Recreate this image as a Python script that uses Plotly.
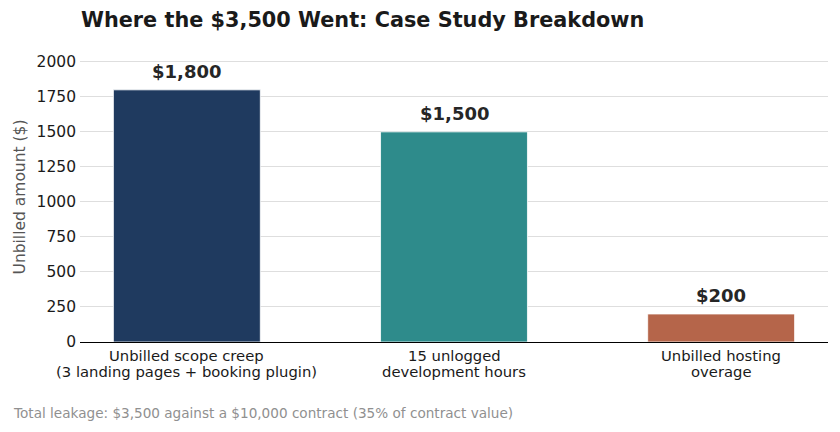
import plotly.graph_objects as go

label_line1 = ["Unbilled scope creep", "15 unlogged", "Unbilled hosting"]
label_line2 = ["(3 landing pages + booking plugin)", "development hours", "overage"]
values = [1800, 1500, 200]
value_labels = ["$1,800", "$1,500", "$200"]
colors = ["#1f3a5f", "#2e8b8b", "#b5654a"]
y_ticks = [0, 250, 500, 750, 1000, 1250, 1500, 1750, 2000]

xpos = list(range(len(values)))

fig = go.Figure()
fig.add_trace(go.Bar(
    x=xpos, y=values, width=0.55,
    marker=dict(color=colors, line=dict(color="white", width=0.8)),
    hoverinfo="skip",
))

for xi, v, lab in zip(xpos, values, value_labels):
    fig.add_annotation(x=xi, y=v, text="<b>" + lab + "</b>", showarrow=False,
                       yanchor="bottom", yshift=6,
                       font=dict(family="DejaVu Sans", size=18, color="#262626"))

# category labels (two lines each, tighter spacing like the reference)
for xi, l1, l2 in zip(xpos, label_line1, label_line2):
    fig.add_annotation(x=xi, xref="x", y=(342 - 355) / 290, yref="paper", text=l1,
                       showarrow=False, yanchor="middle",
                       font=dict(family="DejaVu Sans", size=14.8, color="#1a1a1a"))
    fig.add_annotation(x=xi, xref="x", y=(342 - 371.5) / 290, yref="paper", text=l2,
                       showarrow=False, yanchor="middle",
                       font=dict(family="DejaVu Sans", size=14.8, color="#1a1a1a"))

fig.add_annotation(x=(11 - 80) / 748, y=(342 - 413) / 290, xref="paper", yref="paper",
                   xanchor="left", yanchor="middle",
                   text="Total leakage: $3,500 against a $10,000 contract (35% of contract value)",
                   showarrow=False, font=dict(family="DejaVu Sans", size=13.6, color="#909090"))

fig.update_layout(
    width=840, height=432,
    margin=dict(l=80, r=12, t=52, b=90, autoexpand=False),
    paper_bgcolor="white", plot_bgcolor="white",
    showlegend=False,
    title=dict(text="<b>Where the $3,500 Went: Case Study Breakdown</b>",
               x=81/840, xanchor="left", y=1-20/432, yanchor="middle",
               font=dict(family="DejaVu Sans", size=20.8, color="#1a1a1a")),
    font=dict(family="DejaVu Sans", color="#262626"),
)
fig.update_xaxes(range=[-0.4, 2.4], tickvals=xpos, showticklabels=False,
                 showline=True, linecolor="black", linewidth=1.2,
                 showgrid=False, ticks="", zeroline=False, automargin=False)
fig.update_yaxes(range=[0, 2070], tickvals=y_ticks, ticks="",
                 showgrid=True, gridcolor="#dedede", gridwidth=1,
                 zeroline=False, showline=False, automargin=False,
                 ticklabelstandoff=3,
                 tickfont=dict(size=15.5, color="#1a1a1a"),
                 title=dict(text="Unbilled amount ($)", font=dict(size=15.5, color="#555555"), standoff=7))

fig.write_html("out.html", config={"displayModeBar": False},
               post_script="document.body.style.margin='0px';")
